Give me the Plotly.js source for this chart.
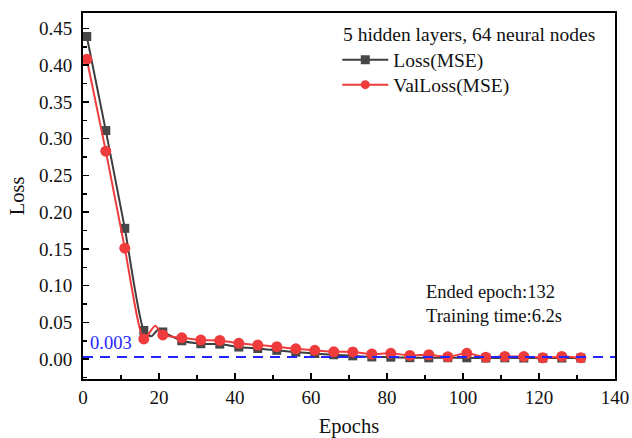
<!DOCTYPE html>
<html>
<head>
<meta charset="utf-8">
<script src="https://cdn.plot.ly/plotly-3.0.1.min.js"></script>
<style>html,body{margin:0;padding:0;background:#fff;}#chart{width:632px;height:438px;}</style>
</head>
<body>
<div id="chart"></div>
<script>
// ---- data ----
const epochs = [1,6,11,16,21,26,31,36,41,46,51,56,61,66,71,76,81,86,91,96,101,106,111,116,121,126,131];
const lossVals = [0.439,0.311,0.178,0.039,0.037,0.025,0.021,0.0205,0.0165,0.0145,0.012,0.0095,0.0077,0.006,0.0045,0.003,0.0027,0.002,0.0018,0.002,0.0018,0.0015,0.0018,0.0015,0.0015,0.0015,0.0015];
const valVals = [0.408,0.283,0.151,0.0275,0.033,0.029,0.026,0.0255,0.0215,0.0192,0.017,0.014,0.012,0.010,0.0098,0.007,0.008,0.005,0.006,0.0032,0.008,0.0027,0.0037,0.0035,0.0018,0.0037,0.0018];
// intermediate (unmarked) epochs of the curves around the early bump
const lossBumpEpochs = [18, 19.8];
const lossBumpVals = [0.031, 0.0405];
const valBumpEpochs = [19];
const valBumpVals = [0.0455];
const threshold = 0.003;
const endedEpoch = 132;
const trainingTime = 6.2;
const seriesNames = ['Loss(MSE)', 'ValLoss(MSE)'];
const legendTitle = '5 hidden layers, 64 neural nodes';

function mergeCurve(ex, ey, bx, by) {
  const pts = ex.map((x, i) => [x, ey[i]]).concat(bx.map((x, i) => [x, by[i]]));
  pts.sort((a, b) => a[0] - b[0]);
  return {x: pts.map(p => p[0]), y: pts.map(p => p[1])};
}
const lossCurve = mergeCurve(epochs, lossVals, lossBumpEpochs, lossBumpVals);
const valCurve = mergeCurve(epochs, valVals, valBumpEpochs, valBumpVals);

const FONT = 'Liberation Serif, Times New Roman, serif';
const BLACK = '#3d3d3d';
const RED = '#ef3b3b';
const LEGFONT = {family: FONT, size: 19.5, color: '#111'};

const traces = [
  {x: lossCurve.x, y: lossCurve.y, mode: 'lines', line: {color: BLACK, width: 2, shape: 'spline', smoothing: 0.6}, showlegend: false, hoverinfo: 'skip'},
  {x: epochs, y: lossVals, mode: 'markers', marker: {symbol: 'square', size: 9, color: '#474747'}, showlegend: false},
  {x: valCurve.x, y: valCurve.y, mode: 'lines', line: {color: RED, width: 2, shape: 'spline', smoothing: 0.6}, showlegend: false, hoverinfo: 'skip'},
  {x: epochs, y: valVals, mode: 'markers', marker: {symbol: 'circle', size: 11, color: RED}, showlegend: false},
  {x: [null], y: [null], mode: 'lines+markers', name: seriesNames[0], legend: 'legend', line: {color: BLACK, width: 2}, marker: {symbol: 'square', size: 9, color: '#474747'}},
  {x: [null], y: [null], mode: 'lines+markers', name: seriesNames[1], legend: 'legend2', line: {color: RED, width: 2}, marker: {symbol: 'circle', size: 9, color: RED}}
];

const legendBase = {
  xanchor: 'left', yanchor: 'middle', bgcolor: 'rgba(0,0,0,0)', borderwidth: 0,
  font: LEGFONT, itemwidth: 46
};

const layout = {
  width: 632, height: 438,
  margin: {l: 83, r: 17, t: 13, b: 59},
  paper_bgcolor: '#fff', plot_bgcolor: '#fff',
  font: {family: FONT, color: '#111', size: 19},
  showlegend: true,
  legend: Object.assign({x: 0.478, y: 0.8716}, legendBase),
  legend2: Object.assign({x: 0.478, y: 0.8033}, legendBase),
  xaxis: {
    range: [0, 140], dtick: 20, tick0: 0,
    showgrid: false, zeroline: false,
    showline: true, linecolor: '#000', linewidth: 2, mirror: true,
    ticks: 'inside', ticklen: 6, tickwidth: 1.5, tickcolor: '#000',
    minor: {dtick: 10, ticks: 'inside', ticklen: 4, tickwidth: 1.5, tickcolor: '#000'},
    tickfont: {family: FONT, size: 19, color: '#111'},
    ticklabelstandoff: 0,
    title: {text: 'Epochs', font: {family: FONT, size: 20.5, color: '#111'}, standoff: 15}
  },
  yaxis: {
    range: [-0.027, 0.471], dtick: 0.05, tick0: 0, tickformat: '.2f',
    showgrid: false, zeroline: false,
    showline: true, linecolor: '#000', linewidth: 2, mirror: true,
    ticks: 'inside', ticklen: 6, tickwidth: 1.5, tickcolor: '#000',
    minor: {dtick: 0.025, ticks: 'inside', ticklen: 4, tickwidth: 1.5, tickcolor: '#000'},
    tickfont: {family: FONT, size: 19, color: '#111'},
    ticklabelstandoff: 5,
    title: {text: 'Loss', font: {family: FONT, size: 20.5, color: '#111'}, standoff: 9}
  },
  shapes: [{
    type: 'line', xref: 'paper', yref: 'y', x0: 0, x1: 1, y0: threshold, y1: threshold,
    line: {color: '#2424ff', width: 2, dash: '10px,7px'}, layer: 'above'
  }],
  annotations: [
    {xref: 'paper', yref: 'paper', x: 0.485, y: 0.940, xanchor: 'left', yanchor: 'middle', showarrow: false,
     text: legendTitle, font: LEGFONT},
    {xref: 'x', yref: 'y', x: 1.3, y: 0.022, xanchor: 'left', yanchor: 'middle', showarrow: false,
     text: threshold.toFixed(3), font: {family: FONT, size: 18.5, color: '#2424ff'}},
    {xref: 'paper', yref: 'paper', x: 0.641, y: 0.206, xanchor: 'left', yanchor: 'middle', align: 'left', showarrow: false,
     text: 'Ended epoch:' + endedEpoch + '<br>Training time:' + trainingTime + 's', font: {family: FONT, size: 18.5, color: '#111'}}
  ]
};

Plotly.newPlot('chart', traces, layout, {displayModeBar: false, staticPlot: true});
</script>
</body>
</html>
